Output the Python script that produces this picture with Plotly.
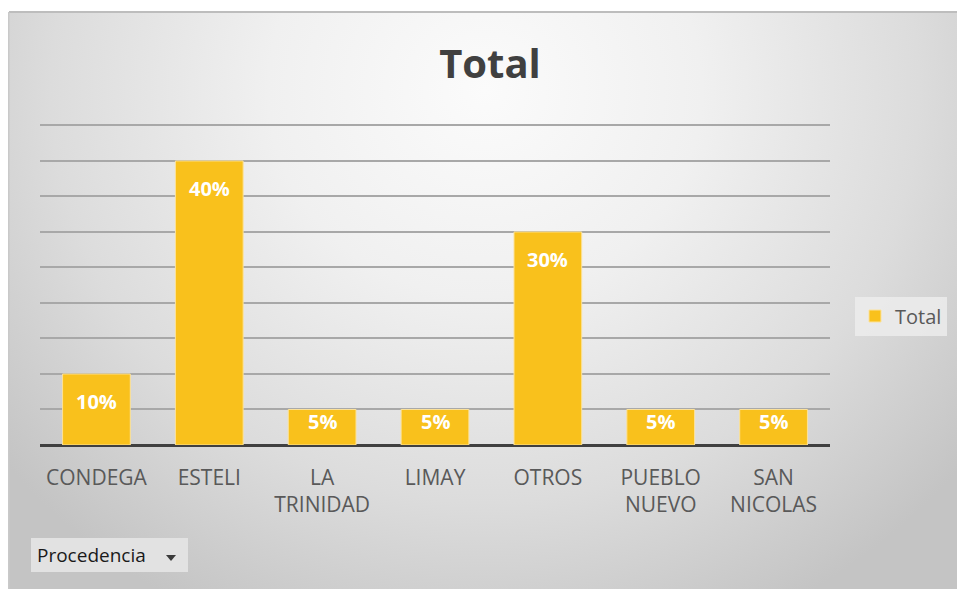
import base64
import plotly.graph_objects as go

# Share of records by place of origin (percent)
categorias = ["CONDEGA", "ESTELI", "LA<br>TRINIDAD", "LIMAY", "OTROS", "PUEBLO<br>NUEVO", "SAN<br>NICOLAS"]
porcentajes = [10, 40, 5, 5, 30, 5, 5]
serie = "Total"

W, H = 961, 589
L, R, T, B = 40, 131, 124, 144          # margins in px
PW, PH = W - L - R, H - T - B
YMAX = 45.2

def px_x(p):
    return (p - L) / PW

def px_y(p):
    return (H - B - p) / PH

# Soft radial background with a thin frame
svg = f"""<svg xmlns='http://www.w3.org/2000/svg' width='{W}' height='{H}' viewBox='0 0 {W} {H}' preserveAspectRatio='none'>
<defs>
<radialGradient id='g' gradientUnits='userSpaceOnUse' cx='485' cy='90' r='620'
  gradientTransform='translate(485 90) scale(1 0.95) translate(-485 -90)'>
<stop offset='0' stop-color='#fbfbfb'/>
<stop offset='0.35' stop-color='#f0f0f0'/>
<stop offset='0.7' stop-color='#dcdcdc'/>
<stop offset='1' stop-color='#c4c4c4'/>
</radialGradient>
</defs>
<rect x='0' y='0' width='{W}' height='{H}' fill='#ffffff'/>
<rect x='9' y='12' width='{W-13}' height='{H-12}' fill='url(#g)'/>
<rect x='9' y='11' width='{W-13}' height='2' fill='#bdbdbd'/>
<rect x='8' y='12' width='1.5' height='{H-12}' fill='#c9c9c9'/>
</svg>"""
bg_src = "data:image/svg+xml;base64," + base64.b64encode(svg.encode()).decode()

fig = go.Figure()
fig.add_trace(go.Bar(
    x=categorias,
    y=porcentajes,
    name=serie,
    width=0.6,
    marker=dict(color="#F9C11C", line=dict(color="#FCE29A", width=1)),
    hoverinfo="x+y",
))

# Value labels placed inside the top of each bar
anotaciones = []
for c, v in zip(categorias, porcentajes):
    anotaciones.append(dict(
        x=c, y=v, xref="x", yref="y",
        text=f"<b>{v}%</b>", showarrow=False,
        yanchor="middle", yshift=-28 if v >= 10 else -12,
        font=dict(family="Open Sans", size=20, color="#ffffff"),
    ))

# Field button label
anotaciones.append(dict(
    x=px_x(35), y=px_y(555), xref="paper", yref="paper",
    text="Procedencia", showarrow=False, xanchor="left", yanchor="middle",
    font=dict(family="Open Sans", size=19, color="#1a1a1a"),
))

fig.update_layout(
    width=W, height=H,
    margin=dict(l=L, r=R, t=T, b=B, pad=0),
    paper_bgcolor="#ffffff",
    plot_bgcolor="rgba(0,0,0,0)",
    title=dict(text="<b>Total</b>", x=(490) / W, xanchor="center", y=1 - 64 / H, yanchor="middle",
               font=dict(family="Open Sans", size=40, color="#404040")),
    xaxis=dict(
        showgrid=False, showline=False, ticks="",
        tickfont=dict(family="Open Sans", size=21, color="#595959"),
        ticklabelstandoff=18,
    ),
    yaxis=dict(
        range=[0, YMAX], dtick=5, showticklabels=False, ticks="",
        showgrid=True, gridcolor="#a8a8a8", gridwidth=2,
        zeroline=True, zerolinecolor="#404040", zerolinewidth=3,
        fixedrange=True,
    ),
    showlegend=True,
    legend=dict(
        x=px_x(855), y=px_y(316), xanchor="left", yanchor="middle",
        bgcolor="rgba(236,236,236,0.85)", borderwidth=0,
        font=dict(family="Open Sans", size=20, color="#595959"),
        itemwidth=30, tracegroupgap=0,
    ),
    annotations=anotaciones,
    images=[dict(
        source=bg_src, xref="paper", yref="paper",
        x=px_x(0), y=px_y(0), sizex=W / PW, sizey=H / PH,
        xanchor="left", yanchor="top", sizing="stretch", layer="below",
    )],
    shapes=[
        dict(type="rect", xref="paper", yref="paper", layer="below",
             x0=px_x(31), x1=px_x(188), y0=px_y(572), y1=px_y(538),
             fillcolor="#e2e2e2", line=dict(width=0)),
        dict(type="path", xref="paper", yref="paper",
             path=f"M {px_x(166)},{px_y(555)} L {px_x(176)},{px_y(555)} L {px_x(171)},{px_y(561)} Z",
             fillcolor="#3a3a3a", line=dict(width=0)),
    ],
    bargap=0.4,
)

fig.write_html("out.html")
